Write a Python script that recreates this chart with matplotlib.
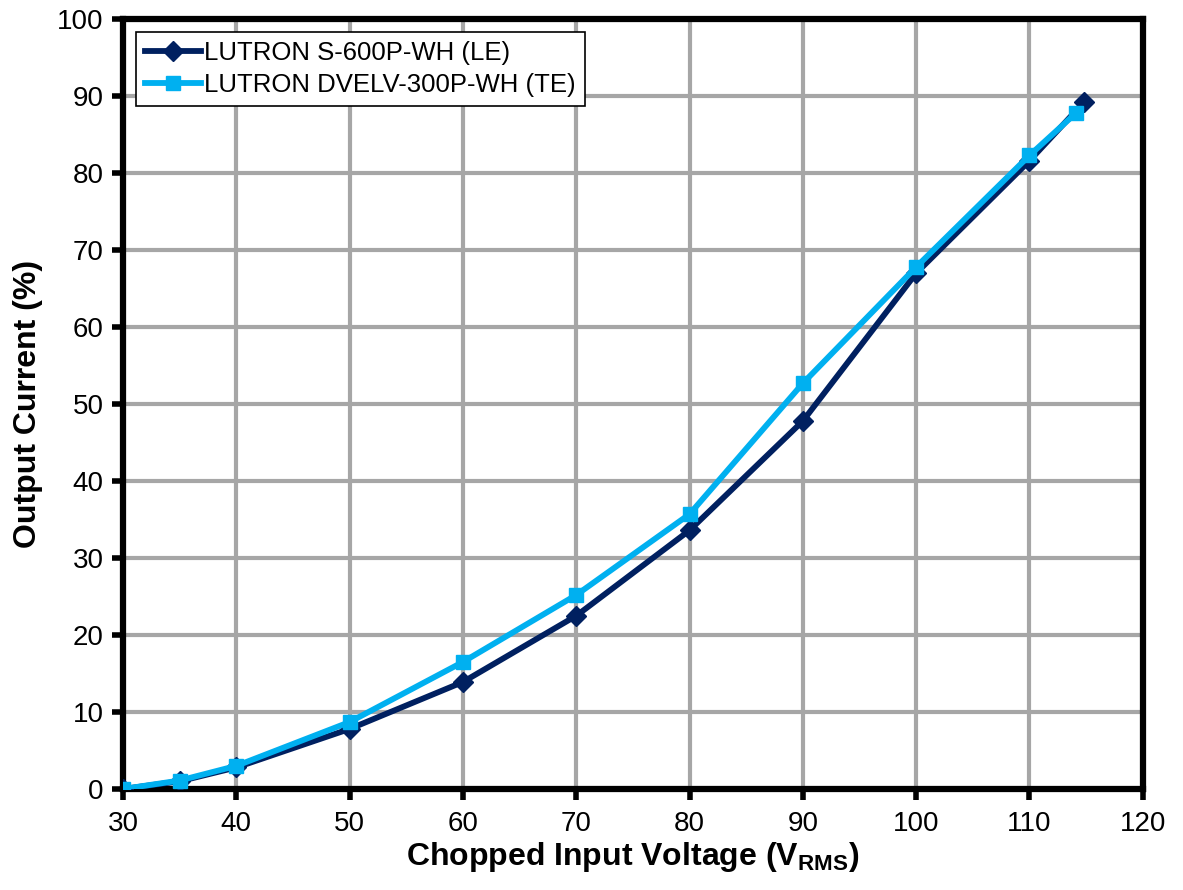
import matplotlib
matplotlib.use('Agg')
from matplotlib import pyplot as plt

plt.rcParams['font.family'] = ['Liberation Sans', 'DejaVu Sans']
plt.rcParams['mathtext.fontset'] = 'custom'
plt.rcParams['mathtext.rm'] = 'Liberation Sans'
plt.rcParams['mathtext.bf'] = 'Liberation Sans:bold'

# data
le_v = [30, 35, 40, 50, 60, 70, 80, 90, 100, 110, 114.8]
le_i = [0, 1.0, 2.8, 7.8, 13.9, 22.5, 33.6, 47.8, 67.0, 81.6, 89.2]
te_v = [30, 35, 40, 50, 60, 70, 80, 90, 100, 110, 114.1]
te_i = [0, 1.1, 3.0, 8.7, 16.5, 25.2, 35.7, 52.7, 67.8, 82.3, 87.8]

le_label = 'LUTRON S-600P-WH (LE)'
te_label = 'LUTRON DVELV-300P-WH (TE)'
xticks = list(range(30, 121, 10))
yticks = list(range(0, 101, 10))

fig = plt.figure(figsize=(11.83, 8.9), dpi=100)
ax = fig.add_axes([0.104, 0.1135, 0.862, 0.865])

ax.plot(le_v, le_i, color='#002060', lw=4.2, marker='D', ms=10.5,
        label=le_label, zorder=3)
ax.plot(te_v, te_i, color='#00B0F0', lw=4.2, marker='s', ms=10.5,
        label=te_label, zorder=4)

ax.set_xlim(30, 120)
ax.set_ylim(0, 100)
ax.set_xticks(xticks)
ax.set_yticks(yticks)
ax.grid(True, color='#A6A6A6', lw=3)
ax.set_axisbelow(True)
for s in ax.spines.values():
    s.set_linewidth(4.5)
    s.set_color('black')
ax.tick_params(axis='both', labelsize=20, width=4, length=8, direction='out')
ax.tick_params(axis='x', pad=8)
ax.tick_params(axis='y', pad=6)

ax.set_xlabel('Chopped Input Voltage (V$_{\\mathbf{RMS}}$)', fontsize=23,
              fontweight='bold', labelpad=2)
ax.set_ylabel('Output Current (%)', fontsize=23, fontweight='bold', labelpad=10)

leg = ax.legend(loc='upper left', fontsize=18.5, fancybox=False, framealpha=1,
                edgecolor='black', handlelength=2.2, handletextpad=0.1,
                borderaxespad=0.5, borderpad=0.35, labelspacing=0.3)
leg.get_frame().set_linewidth(1.2)

fig.savefig('out.png', dpi=100)
